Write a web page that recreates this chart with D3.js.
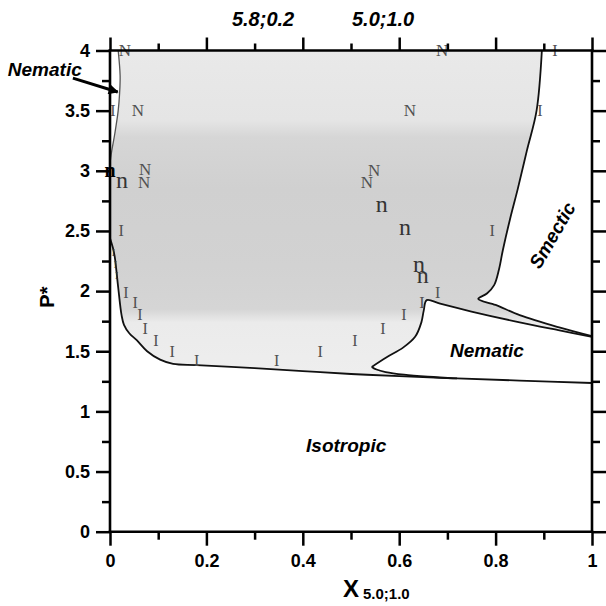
<!DOCTYPE html>
<html>
<head>
<meta charset="utf-8">
<script src="https://cdn.jsdelivr.net/npm/d3@7"></script>
<style>
  body { margin: 0; background: #fff; }
  svg { display: block; }
  .tick-label { font-family: "Liberation Sans", Arial, sans-serif; font-weight: bold; font-size: 18px; fill: #000; }
  .region { font-family: "Liberation Sans", Arial, sans-serif; font-weight: bold; font-style: italic; font-size: 19px; fill: #000; }
  .mk { font-family: "Liberation Serif", "Times New Roman", serif; text-anchor: middle; }
</style>
</head>
<body>
<div id="chart"></div>
<script>
// ---------- Data ----------
const xMajorTicks = [0, 0.2, 0.4, 0.6, 0.8, 1];
const xMinorTicks = [0.1, 0.3, 0.5, 0.7, 0.9];
const yMajorTicks = [0, 0.5, 1, 1.5, 2, 2.5, 3, 3.5, 4];
const yMinorTicks = [0.25, 0.75, 1.25, 1.75, 2.25, 2.75, 3.25, 3.75];
const topLabels = [
  { x: 0.253, text: "5.8;0.2" },
  { x: 0.502, text: "5.0;1.0" }
];

// left (thin) boundary near the P axis, top -> axis
const leftCurve = [[0.017, 4], [0.021, 3.79], [0.020, 3.65], [0.017, 3.5], [0.010, 3.31], [0.003, 3.15], [0, 3.06]];
// isotropic boundary: leaves the axis, runs down and then right
const isoLeft = [[0, 2.44], [0.006, 2.36], [0.010, 2.28], [0.017, 2.03], [0.024, 1.80], [0.029, 1.72], [0.040, 1.65],
                 [0.056, 1.59], [0.077, 1.50], [0.104, 1.43], [0.131, 1.395]];
const isoLower = [[0.18, 1.385], [0.3, 1.36], [0.4, 1.335], [0.5, 1.311], [0.6, 1.293], [0.72, 1.274], [0.85, 1.256], [1, 1.236]];
// nematic pocket (lower right)
const nemLeft = [[0.543, 1.37], [0.574, 1.45], [0.608, 1.53], [0.633, 1.62], [0.646, 1.74], [0.651, 1.84], [0.657, 1.925]];
const nemUpper = [[0.657, 1.925], [0.685, 1.895], [0.75, 1.83], [0.85, 1.74], [0.93, 1.675], [1, 1.62]];
const nemLower = [[0.543, 1.37], [0.553, 1.348], [0.572, 1.327], [0.61, 1.305], [0.66, 1.288], [0.72, 1.274]];
// smectic region (upper right)
const smecRight = [[0.896, 4], [0.885, 3.5], [0.865, 3.17], [0.846, 2.85], [0.83, 2.6], [0.815, 2.34], [0.807, 2.18],
                   [0.797, 2.05], [0.782, 1.98], [0.764, 1.935]];
const smecLower = [[0.764, 1.935], [0.80, 1.885], [0.85, 1.80], [0.93, 1.70], [1, 1.625]];

// simulation markers
const markersN = [[0.031, 4.0], [0.058, 3.5], [0.073, 3.01], [0.071, 2.90], [0.689, 4.0], [0.622, 3.5], [0.548, 3.0], [0.533, 2.905]];
const markersI = [[0.923, 4.0], [0.006, 3.5], [0.892, 3.5], [0.023, 2.5], [0.033, 1.99], [0.052, 1.90], [0.062, 1.80],
                  [0.073, 1.69], [0.095, 1.59], [0.129, 1.50], [0.180, 1.42], [0.346, 1.42], [0.436, 1.50], [0.508, 1.59],
                  [0.566, 1.69], [0.610, 1.80], [0.647, 1.90], [0.680, 1.99], [0.793, 2.50]];
const markersISmall = [[0.007, 2.32], [0.011, 2.22], [0.014, 2.13]];
const markersn = [[0.025, 2.90], [0.564, 2.70], [0.612, 2.51], [0.641, 2.20], [0.649, 2.11]];
const markersBlack = [[0.0, 2.985]];

// ---------- Layout ----------
const width = 606, height = 606;
const margin = { top: 50.5, right: 14, bottom: 74.3, left: 110 };

const x = d3.scaleLinear().domain([0, 1]).range([margin.left, width - margin.right]);
const y = d3.scaleLinear().domain([0, 4]).range([height - margin.bottom, margin.top]);

const svg = d3.select("#chart").append("svg")
  .attr("width", width)
  .attr("height", height);

const defs = svg.append("defs");

// banded grey shading of the two-phase region
const shade = defs.append("linearGradient")
  .attr("id", "shade")
  .attr("gradientUnits", "userSpaceOnUse")
  .attr("x1", 0).attr("x2", 0)
  .attr("y1", y(4)).attr("y2", y(1.3));
[[4, "#e9e9e9"], [3.42, "#e5e5e5"], [3.28, "#d6d6d6"], [2.85, "#d0d0d0"], [2.2, "#d2d2d2"], [1.85, "#d5d5d5"],
 [1.74, "#ebebeb"], [1.3, "#eeeeee"]].forEach(([p, c]) => {
  shade.append("stop")
    .attr("offset", (y(p) - y(4)) / (y(1.3) - y(4)))
    .attr("stop-color", c);
});

defs.append("marker")
  .attr("id", "arrow")
  .attr("markerUnits", "userSpaceOnUse")
  .attr("viewBox", "0 0 10 10")
  .attr("refX", 9).attr("refY", 5)
  .attr("markerWidth", 12).attr("markerHeight", 10)
  .attr("orient", "auto")
  .append("path")
  .attr("d", "M0,0 L10,5 L0,10 Z")
  .attr("fill", "#000");

// ---------- Path helpers ----------
const smooth = d3.line().x(d => x(d[0])).y(d => y(d[1])).curve(d3.curveCatmullRom.alpha(0.5));
const straight = d3.line().x(d => x(d[0])).y(d => y(d[1]));

function joinPaths(parts) {
  return parts.map((p, i) => i === 0 ? p : p.replace(/^M/, "L")).join("") + "Z";
}

const isoCurve = isoLeft.concat(isoLower);

// ---------- Regions ----------
svg.append("path")
  .attr("d", joinPaths([
    smooth(leftCurve),
    straight([[0, 3.06], [0, 2.44]]),
    smooth(isoCurve),
    straight([[1, 1.236], [1, 4], [0.017, 4]])
  ]))
  .attr("fill", "url(#shade)");

svg.append("path")
  .attr("d", joinPaths([
    smooth(smecRight),
    smooth(smecLower),
    straight([[1, 1.625], [1, 4], [0.896, 4]])
  ]))
  .attr("fill", "#fff");

const lowerTail = isoLower.filter(d => d[0] >= 0.72).reverse();
svg.append("path")
  .attr("d", joinPaths([
    smooth(nemLeft),
    smooth(nemUpper),
    straight([[1, 1.62], [1, 1.236]]),
    smooth(lowerTail),
    smooth(nemLower.slice().reverse())
  ]))
  .attr("fill", "#fff");

// ---------- Boundaries ----------
svg.append("path").attr("d", smooth(leftCurve))
  .attr("fill", "none").attr("stroke", "#555").attr("stroke-width", 1.3);

const boundaries = [isoCurve, nemLeft.concat(nemUpper.slice(1)), nemLower, smecRight.concat(smecLower.slice(1))];
svg.selectAll(".boundary")
  .data(boundaries)
  .enter()
  .append("path")
  .attr("class", "boundary")
  .attr("d", d => smooth(d))
  .attr("fill", "none")
  .attr("stroke", "#111")
  .attr("stroke-width", 1.8);

// ---------- Markers ----------
// grey serif letters; the slight opacity keeps the glyphs free of colour fringes
const markerLayer = svg.append("g").attr("opacity", 0.99);

function drawMarkers(data, glyph, size, color, weight, capRatio) {
  markerLayer.append("g").selectAll("text")
    .data(data)
    .enter()
    .append("text")
    .attr("class", "mk")
    .attr("x", d => x(d[0]))
    .attr("y", d => y(d[1]) + size * capRatio)
    .attr("font-size", size)
    .attr("font-weight", weight)
    .attr("fill", color)
    .text(glyph);
}
drawMarkers(markersN, "N", 17, "#505050", "normal", 0.33);
drawMarkers(markersI, "I", 16, "#505050", "normal", 0.33);
drawMarkers(markersISmall, "I", 10, "#333", "normal", 0.33);
drawMarkers(markersn, "n", 24, "#333", "normal", 0.225);
drawMarkers(markersBlack, "n", 20, "#000", "bold", 0.225);

// ---------- Frame & axes ----------
const frame = [
  [[0, 0], [0, 4]], [[1, 0], [1, 4]], [[0, 0], [1, 0]], [[0, 4], [1, 4]]
];
svg.selectAll(".frame")
  .data(frame)
  .enter()
  .append("path")
  .attr("class", "frame")
  .attr("d", d => straight(d))
  .attr("stroke", "#000")
  .attr("stroke-width", 2.6)
  .attr("stroke-linecap", "square");

function addAxis(axis, transform, labels) {
  const g = svg.append("g")
    .attr("transform", transform)
    .call(axis);
  g.select(".domain").remove();
  g.selectAll(".tick line").attr("stroke", "#000").attr("stroke-width", 2.5);
  g.selectAll(".tick text").attr("class", "tick-label");
  if (!labels) g.selectAll(".tick text").remove();
  return g;
}
const fmt = d3.format("~g");

addAxis(d3.axisBottom(x).tickValues(xMajorTicks).tickSize(14).tickPadding(9).tickFormat(fmt), `translate(0,${y(0)})`, true);
addAxis(d3.axisBottom(x).tickValues(xMinorTicks).tickSize(8).tickFormat(""), `translate(0,${y(0)})`, false);
addAxis(d3.axisTop(x).tickValues(xMajorTicks).tickSize(13).tickFormat(""), `translate(0,${y(4)})`, false);
addAxis(d3.axisTop(x).tickValues(xMinorTicks).tickSize(7).tickFormat(""), `translate(0,${y(4)})`, false);
addAxis(d3.axisLeft(y).tickValues(yMajorTicks).tickSize(14).tickPadding(6).tickFormat(fmt), `translate(${x(0)},0)`, true);
addAxis(d3.axisLeft(y).tickValues(yMinorTicks).tickSize(8).tickFormat(""), `translate(${x(0)},0)`, false);
addAxis(d3.axisRight(y).tickValues(yMajorTicks).tickSize(14).tickFormat(""), `translate(${x(1)},0)`, false);
addAxis(d3.axisRight(y).tickValues(yMinorTicks).tickSize(8).tickFormat(""), `translate(${x(1)},0)`, false);

svg.selectAll(".top-label")
  .data(topLabels)
  .enter()
  .append("text")
  .attr("class", "region top-label")
  .attr("x", d => x(d.x))
  .attr("y", 26)
  .style("font-size", "20px")
  .text(d => d.text);

// ---------- Axis titles ----------
svg.append("text")
  .attr("transform", `translate(54,${y(1.95)}) rotate(-90)`)
  .attr("text-anchor", "middle")
  .style("font-family", "'Liberation Sans', Arial, sans-serif")
  .style("font-weight", "bold")
  .style("font-size", "20px")
  .text("P*");

const xTitle = svg.append("text")
  .attr("x", 343)
  .attr("y", 597)
  .style("font-family", "'Liberation Sans', Arial, sans-serif")
  .style("font-weight", "bold");
xTitle.append("tspan").style("font-size", "24px").text("X");
xTitle.append("tspan").attr("dx", 4).attr("dy", 2).style("font-size", "15px").text("5.0;1.0");

// ---------- Region labels ----------
svg.append("text").attr("class", "region")
  .attr("x", x(0.49)).attr("y", y(0.66))
  .attr("text-anchor", "middle")
  .text("Isotropic");

svg.append("text").attr("class", "region")
  .attr("x", x(0.782)).attr("y", y(1.45))
  .attr("text-anchor", "middle")
  .text("Nematic");

svg.append("text").attr("class", "region")
  .attr("transform", `translate(${x(0.915) + 7},${y(2.47) + 4}) rotate(-60)`)
  .attr("text-anchor", "middle")
  .text("Smectic");

svg.append("text").attr("class", "region")
  .attr("x", x(-0.212)).attr("y", y(3.79))
  .text("Nematic");

svg.append("path")
  .attr("d", straight([[-0.077, 3.77], [0.016, 3.655]]))
  .attr("stroke", "#000")
  .attr("stroke-width", 3)
  .attr("marker-end", "url(#arrow)");
</script>
</body>
</html>
